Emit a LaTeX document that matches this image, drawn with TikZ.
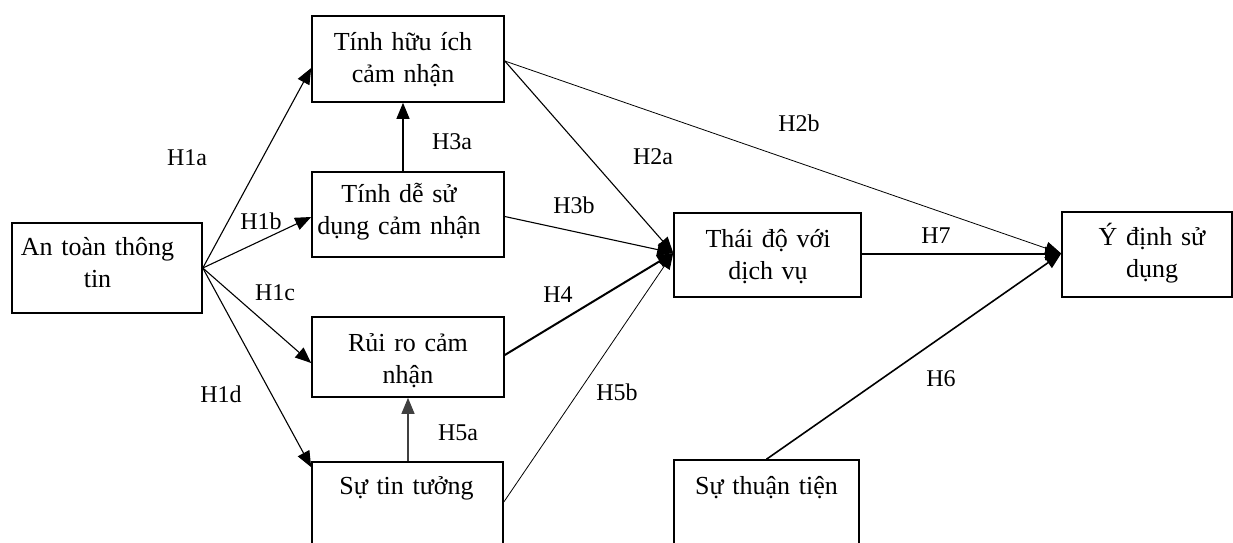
\documentclass[tikz,border=0pt]{standalone}
\usepackage{fontspec}
\setmainfont{Liberation Serif}
\usetikzlibrary{arrows.meta,calc}
\tikzset{
  box/.style={draw, line width=1.6pt, rectangle, inner sep=0pt},
  boxtext/.style={anchor=base, align=center, text width=200pt, inner sep=0pt,
    font=\fontsize{26}{32}\selectfont},
  lbl/.style={font=\fontsize{24}{28}\selectfont, inner sep=0pt},
  arr/.style={-{Triangle[length=16pt,width=13pt]}, line width=1.1pt},
  thinarr/.style={-{Triangle[length=16pt,width=13pt]}, line width=0.8pt},
  thickarr/.style={-{Triangle[length=16pt,width=13pt]}, line width=2pt},
}
\begin{document}
\begin{tikzpicture}[x=1pt,y=-1pt]
\useasboundingbox (0,0) rectangle (1233,542);
% boxes
\node[box, minimum width=190pt, minimum height=90pt] (at) at (107,268) {};
\node[box, minimum width=192pt, minimum height=86pt] (hi) at (408,59) {};
\node[box, minimum width=192pt, minimum height=85pt] (de) at (408,214.5) {};
\node[box, minimum width=192pt, minimum height=80pt] (rr) at (408,357) {};
\node[box, minimum width=191pt, minimum height=98pt] (tt) at (407.5,511) {};
\node[box, minimum width=187pt, minimum height=84pt] (td) at (767.5,255) {};
\node[box, minimum width=170pt, minimum height=85pt] (yd) at (1147,254.5) {};
\node[box, minimum width=185pt, minimum height=100pt] (tn) at (766.5,510) {};
% texts
\node[boxtext] (att) at (97.5,255) {An toàn thông\\tin};
\node[boxtext] (hit) at (403,50) {Tính hữu ích\\cảm nhận};
\node[boxtext] (det) at (399,202) {Tính dễ sử\\dụng cảm nhận};
\node[boxtext] (rrt) at (408,351) {Rủi ro cảm\\nhận};
\node[boxtext] (ttt) at (406.5,494) {Sự tin tưởng};
\node[boxtext] (tdt) at (768,247) {Thái độ với\\dịch vụ};
\node[boxtext] (ydt) at (1152,245) {Ý định sử\\dụng};
\node[boxtext] (tnt) at (766.5,494) {Sự thuận tiện};
% named points
\coordinate (src) at (at.east);
\coordinate (tdin) at ($(td.west)+(0,-2)$);
\coordinate (ydin) at ($(yd.west)+(0,-1)$);
\coordinate (hiout) at ($(hi.east)+(0,2)$);
% connectors
\draw[arr] (src) -- ($(hi.west)+(0,9)$);
\draw[arr] (src) -- ($(de.west)+(0,2.5)$);
\draw[arr] (src) -- ($(rr.west)+(0,6)$);
\draw[arr] (src) -- ($(tt.north west)+(0,6)$);
\draw[arr] ($(de.north)+(-5,0)$) -- ($(hi.south)+(-5,0)$);
\draw[arr, draw=black!75] ($(tt.north)+(0.5,0)$) -- ($(rr.south)+(0,0)$);
\draw[arr] (hiout) -- (tdin);
\draw[thinarr] (hiout) -- (ydin);
\draw[arr] ($(de.east)+(0,2)$) -- (tdin);
\draw[thickarr] ($(rr.east)+(0,-2)$) -- (tdin);
\draw[thinarr] ($(tt.east)+(0,-9)$) -- (tdin);
\draw[thickarr] (td.east |- ydin) -- (ydin);
\draw[arr, line width=1.6pt] (tn.north) -- (ydin);
% labels
\node[lbl] (l1a) at (187,158) {H1a};
\node[lbl] (l1b) at (261,221) {H1b};
\node[lbl] (l1c) at (275,293) {H1c};
\node[lbl] (l1d) at (221,394) {H1d};
\node[lbl] (l3a) at (452,142) {H3a};
\node[lbl] (l5a) at (458,433) {H5a};
\node[lbl] (l2a) at (653,157) {H2a};
\node[lbl] (l3b) at (574,205) {H3b};
\node[lbl] (l4) at (558,295) {H4};
\node[lbl] (l5b) at (617,392) {H5b};
\node[lbl] (l2b) at (799,123) {H2b};
\node[lbl] (l7) at (936,236) {H7};
\node[lbl] (l6) at (941,379) {H6};
\end{tikzpicture}
\end{document}
